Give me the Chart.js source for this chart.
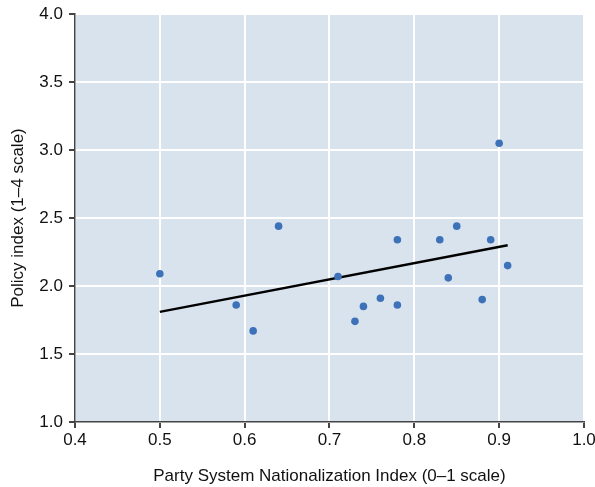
<!DOCTYPE html>
<html>
<head>
<meta charset="utf-8">
<script src="https://cdn.jsdelivr.net/npm/chart.js@4"></script>
<style>
  html, body { margin: 0; padding: 0; background: #fff; }
  #wrap { width: 595px; height: 487px; }
</style>
</head>
<body>
<div id="wrap"><canvas id="grafico" width="595" height="487"></canvas></div>
<script>
// dados
const nationalization = [0.50, 0.59, 0.61, 0.64, 0.71, 0.73, 0.74, 0.76, 0.78, 0.78, 0.83, 0.84, 0.85, 0.88, 0.89, 0.90, 0.91];
const policyIndex     = [2.09, 1.86, 1.67, 2.44, 2.07, 1.74, 1.85, 1.91, 2.34, 1.86, 2.34, 2.06, 2.44, 1.90, 2.34, 3.05, 2.15];
const fitX = [0.50, 0.91];
const fitY = [1.81, 2.30];
const xTicks = [0.4, 0.5, 0.6, 0.7, 0.8, 0.9, 1.0];
const yTicks = [1.0, 1.5, 2.0, 2.5, 3.0, 3.5, 4.0];

const FONT = 'Liberation Sans, Arial, Helvetica, sans-serif';

// fundo azul claro da área do gráfico
const plotBg = {
  id: 'plotBg',
  beforeDraw(c) {
    const a = c.chartArea, ctx = c.ctx;
    ctx.save();
    ctx.fillStyle = '#d9e3ee';
    ctx.fillRect(a.left, a.top, a.right - a.left, a.bottom - a.top);
    ctx.restore();
  }
};

const ctx = document.getElementById('grafico').getContext('2d');
const chart = new Chart(ctx, {
  type: 'scatter',
  data: {
    datasets: [
      {
        label: 'Países',
        data: nationalization.map((x, i) => ({ x: x, y: policyIndex[i] })),
        backgroundColor: '#3d72b9',
        borderWidth: 0,
        pointRadius: 3.8
      },
      {
        type: 'line',
        label: 'Ajuste',
        data: fitX.map((x, i) => ({ x: x, y: fitY[i] })),
        borderColor: '#000',
        borderWidth: 2.4,
        pointRadius: 0,
        fill: false
      }
    ]
  },
  plugins: [plotBg],
  options: {
    responsive: false,
    animation: false,
    layout: { padding: { top: 14, right: 11, left: 4, bottom: 0 } },
    plugins: { legend: { display: false }, tooltip: { enabled: false } },
    scales: {
      x: {
        type: 'linear',
        min: 0.4, max: 1.0,
        afterBuildTicks: s => { s.ticks = xTicks.map(v => ({ value: v })); },
        afterFit: s => { s.height = 65; s.paddingRight = 0; s.paddingLeft = 0; },
        grid: { color: '#fff', lineWidth: 2, tickColor: '#444', tickLength: 6, drawTicks: true },
        border: { color: '#444', width: 1.5 },
        ticks: {
          color: '#111', padding: 2,
          font: { family: FONT, size: 17 },
          callback: v => v.toFixed(1)
        },
        title: {
          display: true, text: 'Party System Nationalization Index (0–1 scale)',
          color: '#111', font: { family: FONT, size: 17 }, padding: { top: 21, bottom: 0 }
        }
      },
      y: {
        min: 1.0, max: 4.0,
        afterBuildTicks: s => { s.ticks = yTicks.map(v => ({ value: v })); },
        afterFit: s => { s.width = 71; s.paddingTop = 0; s.paddingBottom = 0; },
        grid: { color: '#fff', lineWidth: 2, tickColor: '#444', tickLength: 6 },
        border: { color: '#444', width: 1.5 },
        ticks: {
          color: '#111', padding: 6,
          font: { family: FONT, size: 17 },
          callback: v => v.toFixed(1)
        },
        title: {
          display: true, text: 'Policy index (1–4 scale)',
          color: '#111', font: { family: FONT, size: 17 }, padding: { bottom: 6 }
        }
      }
    }
  }
});
</script>
</body>
</html>
